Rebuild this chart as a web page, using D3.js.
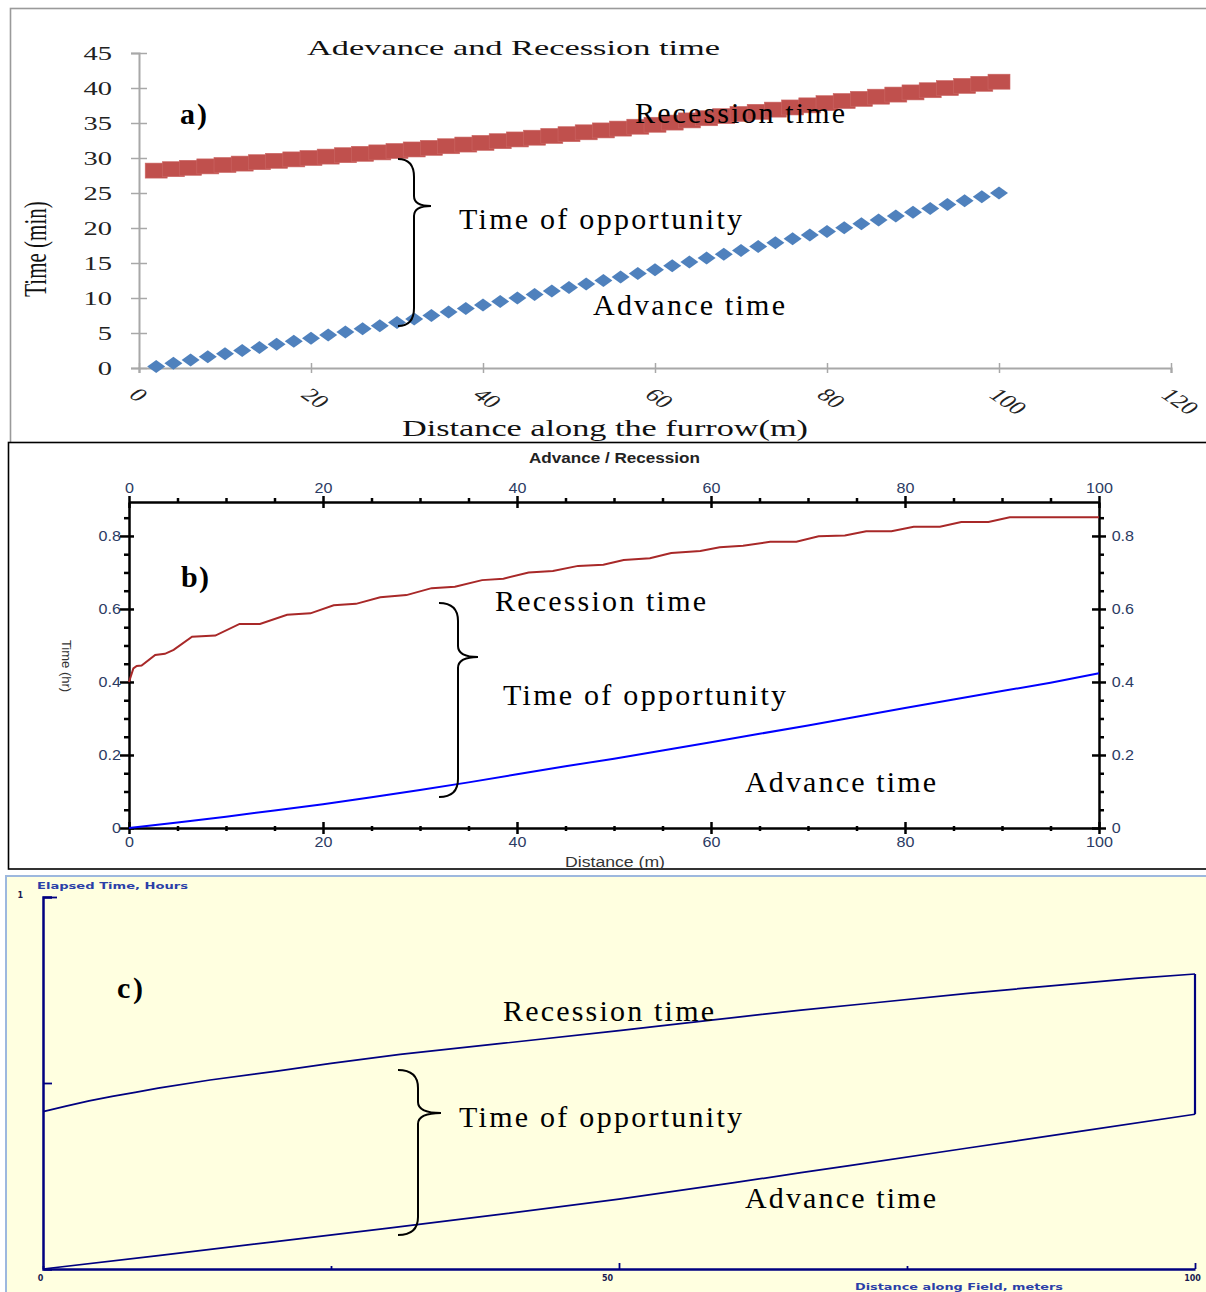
<!DOCTYPE html>
<html><head><meta charset="utf-8">
<script src="https://cdn.jsdelivr.net/npm/d3@7"></script>
<style>body{margin:0;background:#fff}svg{display:block}</style>
</head><body>
<svg id="c" width="1206" height="1292"></svg>
<script>
// ---------- DATA ----------
// Panel a (minutes)
const aDist = [2,4,6,8,10,12,14,16,18,20,22,24,26,28,30,32,34,36,38,40,42,44,46,48,50,52,54,56,58,60,62,64,66,68,70,72,74,76,78,80,82,84,86,88,90,92,94,96,98,100];
const aAdvance = [0.2,0.67,1.14,1.6,2.05,2.5,2.93,3.38,3.82,4.25,4.7,5.15,5.6,6.05,6.5,7.0,7.5,8.0,8.5,9.0,9.5,10.0,10.5,11.0,11.5,12.0,12.5,13.0,13.5,14.05,14.6,15.15,15.7,16.25,16.8,17.35,17.9,18.45,19.0,19.5,20.05,20.6,21.15,21.7,22.25,22.8,23.35,23.9,24.45,25.0];
const aRecession = [28.2,28.4,28.6,28.8,29.0,29.2,29.4,29.6,29.8,30.0,30.2,30.4,30.6,30.8,31.0,31.22,31.45,31.68,31.92,32.16,32.4,32.65,32.9,33.15,33.4,33.67,33.94,34.2,34.47,34.75,35.06,35.37,35.68,35.98,36.29,36.6,36.91,37.22,37.52,37.83,38.14,38.45,38.76,39.06,39.37,39.68,39.99,40.3,40.6,40.9];
const aYTicks = [0,5,10,15,20,25,30,35,40,45];
const aXTicks = [0,20,40,60,80,100,120];

// Panel b (hours)
const bRecDist = [0,0.45,0.8,1.3,2.7,3.7,4.6,6.5,8.9,11.4,13.5,16.3,18.7,21.1,23.4,25.9,28.6,31.2,33.6,36.4,38.6,41.2,43.7,46.3,48.9,51.0,53.7,55.9,58.9,60.9,63.3,66.1,68.8,71.1,73.8,76.0,78.6,80.9,83.6,85.8,88.6,90.8,100];
const bRecTime = [0.40,0.437,0.444,0.445,0.474,0.477,0.488,0.524,0.527,0.559,0.559,0.584,0.588,0.610,0.614,0.632,0.638,0.657,0.661,0.679,0.683,0.700,0.704,0.718,0.721,0.734,0.739,0.753,0.759,0.769,0.773,0.784,0.784,0.799,0.801,0.813,0.813,0.825,0.825,0.838,0.838,0.851,0.851];
const bAdvDist = [0,5,10,15,20,25,30,35,40,45,50,55,60,65,70,75,80,85,90,95,100];
const bAdvTime = [0,0.015,0.031,0.048,0.065,0.084,0.104,0.125,0.147,0.169,0.19,0.212,0.235,0.258,0.281,0.305,0.329,0.352,0.375,0.398,0.424];
const bXMajor = [0,20,40,60,80,100];
const bXMinor = [5,10,15,25,30,35,45,50,55,65,70,75,85,90,95];
const bYMajor = [0,0.2,0.4,0.6,0.8];
const bYMinor = [0.05,0.1,0.15,0.25,0.3,0.35,0.45,0.5,0.55,0.65,0.7,0.75,0.85];

// Panel c (hours)
const cRecDist = [0,2,4,6,8,10,14.5,20.3,25,31,40,50,58,65.8,72,80.3,87,94.8,100];
const cRecTime = [0.423,0.438,0.452,0.464,0.475,0.486,0.508,0.532,0.553,0.577,0.607,0.641,0.669,0.696,0.715,0.741,0.760,0.781,0.793];
const cAdvDist = [0,10,20,30,40,50,60,65.8,70,80,90,100];
const cAdvTime = [0,0.036,0.073,0.11,0.148,0.188,0.232,0.259,0.278,0.324,0.37,0.416];
const cXTicks = [0,25,50,75,100];
const cXLabels = [0,50,100];

// ---------- DRAW ----------
const svg = d3.select('#c');
const SERIF = '"Liberation Serif","Times New Roman",serif';
const SANS = '"Liberation Sans",Arial,sans-serif';

// frames
svg.append('rect').attr('x',10.5).attr('y',8.5).attr('width',1300).attr('height',445)
  .attr('fill','#fff').attr('stroke','#9a9a9a').attr('stroke-width',1.6);
svg.append('rect').attr('x',8.5).attr('y',442.5).attr('width',1300).attr('height',426.5)
  .attr('fill','#fff').attr('stroke','#000').attr('stroke-width',1.6);
svg.append('rect').attr('x',6).attr('y',876).attr('width',1300).attr('height',500)
  .attr('fill','#FFFFE0').attr('stroke','#9DB8DE').attr('stroke-width',2);

function brace(x0, xm, xt, top, tip, bottom, rE, rT) {
  return `M${x0},${top} Q${xm},${top} ${xm},${top+rE} L${xm},${tip-rT} Q${xm},${tip} ${xt},${tip} ` +
         `Q${xm},${tip} ${xm},${tip+rT} L${xm},${bottom-rE} Q${xm},${bottom} ${x0},${bottom}`;
}
function note(x, y, str, len, bold) {
  svg.append('text').attr('x',x).attr('y',y).text(str)
    .attr('font-family',SERIF).attr('font-size',30)
    .attr('font-weight',bold?'bold':'normal')
    .attr('fill','#000')
    .attr('textLength',len).attr('lengthAdjust','spacing');
}

// ===== Panel a =====
const xa = d3.scaleLinear().domain([0,120]).range([139,1171]);
const ya = d3.scaleLinear().domain([0,45]).range([368,53]);
const aCol = '#a8a8a8';

const gaY = svg.append('g').attr('transform',`translate(${xa(0)},0)`)
  .call(d3.axisLeft(ya).tickValues(aYTicks).tickSizeOuter(0).tickSize(8).tickFormat(d3.format('d')));
gaY.select('.domain').attr('stroke',aCol).attr('stroke-width',2);
gaY.selectAll('.tick line').attr('stroke',aCol).attr('stroke-width',1.5).attr('x1',-8).attr('x2',8);
gaY.selectAll('.tick text').attr('x',null).attr('dy',null)
  .attr('transform','translate(-27,6.5) scale(1.5,1)')
  .attr('font-family',SERIF).attr('font-size',19).attr('fill','#222');

const gaX = svg.append('g').attr('transform',`translate(0,${ya(0)})`)
  .call(d3.axisBottom(xa).tickValues(aXTicks).tickSizeOuter(0).tickSize(5).tickFormat(d3.format('d')));
gaX.select('.domain').attr('stroke',aCol).attr('stroke-width',2.2);
gaX.selectAll('.tick line').attr('stroke',aCol).attr('stroke-width',1.5).attr('y1',-5).attr('y2',5);
gaX.selectAll('.tick text').attr('y',null).attr('dy',null)
  .attr('text-anchor','start')
  .attr('transform','translate(-12,28) scale(1.45,1) rotate(45)')
  .attr('font-family',SERIF).attr('font-size',18.5).attr('fill','#222');
svg.selectAll('.domain').attr('fill','none');

// recession squares
svg.append('g').selectAll('rect').data(aDist).join('rect')
  .attr('x',(d)=>xa(d)-11).attr('y',(d,i)=>ya(aRecession[i])-7.5)
  .attr('width',22).attr('height',15)
  .attr('fill','#C0504D').attr('stroke','#CB6764').attr('stroke-width',0.6);
// advance diamonds
svg.append('g').selectAll('path').data(aDist).join('path')
  .attr('transform',(d,i)=>`translate(${xa(d)},${ya(aAdvance[i])})`)
  .attr('d','M0,-6.5 L9,0 L0,6.5 L-9,0 Z')
  .attr('fill','#4F81BD');

svg.append('text').attr('x',307).attr('y',55).text('Adevance and Recession time')
  .attr('font-family',SERIF).attr('font-size',22).attr('fill','#111')
  .attr('textLength',413).attr('lengthAdjust','spacingAndGlyphs');
svg.append('text').attr('x',402).attr('y',436).text('Distance along the furrow(m)')
  .attr('font-family',SERIF).attr('font-size',24).attr('fill','#111')
  .attr('textLength',406).attr('lengthAdjust','spacingAndGlyphs');
svg.append('text').attr('transform','translate(46,249) scale(1.5,1) rotate(-90)')
  .attr('text-anchor','middle').text('Time (min)')
  .attr('font-family',SERIF).attr('font-size',21).attr('fill','#111');

// ===== Panel b =====
const xb = d3.scaleLinear().domain([0,100]).range([129,1099]);
const yb = d3.scaleLinear().domain([0,0.893]).range([828,502]);
const bTick = '#2b3b63';
function styleB(g) {
  g.select('.domain').attr('stroke','#000').attr('stroke-width',2.5).attr('fill','none');
  g.selectAll('.tick line').attr('stroke','#000').attr('stroke-width',2.5);
  g.selectAll('.tick text').attr('font-family',SANS).attr('font-size',14).attr('fill',bTick);
}
// minor ticks
svg.append('g').attr('transform',`translate(0,${yb(0)})`)
  .call(d3.axisBottom(xb).tickValues(bXMinor).tickFormat('').tickSizeOuter(0))
  .call(g=>{g.select('.domain').remove(); g.selectAll('.tick line').attr('stroke','#000').attr('stroke-width',2.5).attr('y1',-2).attr('y2',3);});
svg.append('g').attr('transform',`translate(0,${yb(0.893)})`)
  .call(d3.axisTop(xb).tickValues(bXMinor).tickFormat('').tickSizeOuter(0).tickSize(4))
  .call(g=>{g.select('.domain').remove(); g.selectAll('.tick line').attr('stroke','#000').attr('stroke-width',2.5);});
svg.append('g').attr('transform',`translate(${xb(0)},0)`)
  .call(d3.axisLeft(yb).tickValues(bYMinor).tickFormat('').tickSizeOuter(0).tickSize(5))
  .call(g=>{g.select('.domain').remove(); g.selectAll('.tick line').attr('stroke','#000').attr('stroke-width',2.5);});
svg.append('g').attr('transform',`translate(${xb(100)},0)`)
  .call(d3.axisRight(yb).tickValues(bYMinor).tickFormat('').tickSizeOuter(0).tickSize(5))
  .call(g=>{g.select('.domain').remove(); g.selectAll('.tick line').attr('stroke','#000').attr('stroke-width',2.5);});

// major axes
const gbB = svg.append('g').attr('transform',`translate(0,${yb(0)})`)
  .call(d3.axisBottom(xb).tickValues(bXMajor).tickSizeOuter(0).tickFormat(d3.format('d'))).call(styleB);
gbB.selectAll('.tick line').attr('y1',-6).attr('y2',6);
gbB.selectAll('.tick text').attr('y',9).attr('transform','scale(1.15,1)');
const gbT = svg.append('g').attr('transform',`translate(0,${yb(0.893)})`)
  .call(d3.axisTop(xb).tickValues(bXMajor).tickSizeOuter(0).tickFormat(d3.format('d'))).call(styleB);
gbT.selectAll('.tick line').attr('y1',-6).attr('y2',6);
gbT.selectAll('.tick text').attr('y',-9).attr('transform','scale(1.15,1)');
const gbL = svg.append('g').attr('transform',`translate(${xb(0)},0)`)
  .call(d3.axisLeft(yb).tickValues(bYMajor).tickSizeOuter(0).tickFormat(d=>d===0?'0':d3.format('.1f')(d))).call(styleB);
gbL.selectAll('.tick line').attr('x1',-9).attr('x2',5);
gbL.selectAll('.tick text').attr('x',-7).attr('transform','scale(1.15,1)');
const gbR = svg.append('g').attr('transform',`translate(${xb(100)},0)`)
  .call(d3.axisRight(yb).tickValues(bYMajor).tickSizeOuter(0).tickFormat(d=>d===0?'0':d3.format('.1f')(d))).call(styleB);
gbR.selectAll('.tick line').attr('x1',-7).attr('x2',7);
gbR.selectAll('.tick text').attr('x',11).attr('transform','scale(1.15,1)');

const lineB = d3.line().x(d=>xb(d[0])).y(d=>yb(d[1]));
svg.append('path').attr('d',lineB(bRecDist.map((d,i)=>[d,bRecTime[i]])))
  .attr('fill','none').attr('stroke','#A82828').attr('stroke-width',2);
svg.append('path').attr('d',lineB(bAdvDist.map((d,i)=>[d,bAdvTime[i]])))
  .attr('fill','none').attr('stroke','#0000FF').attr('stroke-width',2);

svg.append('text').attr('x',529).attr('y',463).text('Advance / Recession')
  .attr('font-family',SANS).attr('font-size',14).attr('font-weight','bold').attr('fill','#222')
  .attr('textLength',171).attr('lengthAdjust','spacingAndGlyphs');
svg.append('text').attr('x',565).attr('y',867).text('Distance (m)')
  .attr('font-family',SANS).attr('font-size',14).attr('fill','#333')
  .attr('textLength',100).attr('lengthAdjust','spacingAndGlyphs');
svg.append('text').attr('transform','translate(62,666) rotate(90)').attr('text-anchor','middle')
  .text('Time (hr)').attr('font-family',SANS).attr('font-size',13).attr('fill','#333');

// ===== Panel c =====
const xc = d3.scaleLinear().domain([0,100]).range([43,1195]);
const yc = d3.scaleLinear().domain([0,1]).range([1269,897]);
const navy = '#000080';
const cLab = '#2B3FA8';

const gcY = svg.append('g').attr('transform',`translate(${xc(0)},0)`)
  .call(d3.axisRight(yc).tickValues([0.5,1]).tickFormat('').tickSizeOuter(0).tickSize(9));
gcY.select('.domain').attr('stroke',navy).attr('stroke-width',2.5).attr('fill','none');
gcY.selectAll('.tick line').attr('stroke',navy).attr('stroke-width',1.8).attr('x2',d=>d===1?14:9);
const gcY1 = svg.append('g').attr('transform',`translate(${xc(0)},0)`)
  .call(d3.axisLeft(yc).tickValues([1]).tickFormat(d3.format('d')).tickSize(0).tickPadding(20));
gcY1.select('.domain').remove();
gcY1.selectAll('text').attr('font-family','"DejaVu Sans",sans-serif').attr('font-size',8).attr('font-weight','bold').attr('fill','#1a1a50').attr('dy','0.1em');

const gcX = svg.append('g').attr('transform',`translate(0,${yc(0)})`)
  .call(d3.axisBottom(xc).tickValues(cXTicks).tickSizeOuter(0)
    .tickFormat(d=>cXLabels.includes(d)?String(d):''));
gcX.select('.domain').attr('stroke',navy).attr('stroke-width',2.5).attr('fill','none');
gcX.selectAll('.tick line').attr('stroke',navy).attr('stroke-width',1.8).attr('y1',0)
  .attr('y2',d=>(d===50||d===100)?-6:-3);
gcX.selectAll('.tick text').attr('y',12).attr('dy',null)
  .attr('font-family','"DejaVu Sans",sans-serif').attr('font-size',8).attr('font-weight','bold').attr('fill','#1a1a50');
gcX.selectAll('.tick').filter(d=>d===0).select('text').attr('x',-3);
gcX.selectAll('.tick').filter(d=>d===50).select('text').attr('x',-12);
gcX.selectAll('.tick').filter(d=>d===100).select('text').attr('x',-3);

const lineC = d3.line().x(d=>xc(d[0])).y(d=>yc(d[1]));
svg.append('path').attr('d',lineC(cRecDist.map((d,i)=>[d,cRecTime[i]])))
  .attr('fill','none').attr('stroke',navy).attr('stroke-width',1.7);
svg.append('path').attr('d',lineC(cAdvDist.map((d,i)=>[d,cAdvTime[i]])))
  .attr('fill','none').attr('stroke',navy).attr('stroke-width',1.7);
svg.append('path').attr('d',lineC([[cAdvDist[cAdvDist.length-1],cAdvTime[cAdvTime.length-1]],[cRecDist[cRecDist.length-1],cRecTime[cRecTime.length-1]]]))
  .attr('fill','none').attr('stroke',navy).attr('stroke-width',2.2);

svg.append('text').attr('x',37).attr('y',889).text('Elapsed Time, Hours')
  .attr('font-family','"DejaVu Sans",sans-serif').attr('font-size',8).attr('font-weight','bold').attr('fill',cLab)
  .attr('textLength',151).attr('lengthAdjust','spacingAndGlyphs');
svg.append('text').attr('x',855).attr('y',1290).text('Distance along Field, meters')
  .attr('font-family','"DejaVu Sans",sans-serif').attr('font-size',8).attr('font-weight','bold').attr('fill',cLab)
  .attr('textLength',208).attr('lengthAdjust','spacingAndGlyphs');

// ===== annotations =====
const braces = [
  [398,414,431,159,206,326,18,10],
  [439,458,478,603,657,797,18,11],
  [398,418,441,1070,1113,1235,18,11]
];
svg.append('g').selectAll('path').data(braces).join('path')
  .attr('d',b=>brace(...b)).attr('fill','none').attr('stroke','#000').attr('stroke-width',2);

note(180,124,'a)',27,true);
note(635,123,'Recession time',210);
note(459,229,'Time of opportunity',283);
note(593,315,'Advance time',192);

note(181,587,'b)',28,true);
note(495,611,'Recession time',211);
note(503,705,'Time of opportunity',283);
note(745,792,'Advance time',191);

note(117,998,'c)',26,true);
note(503,1021,'Recession time',211);
note(459,1127,'Time of opportunity',283);
note(745,1208,'Advance time',191);
</script>
</body></html>
